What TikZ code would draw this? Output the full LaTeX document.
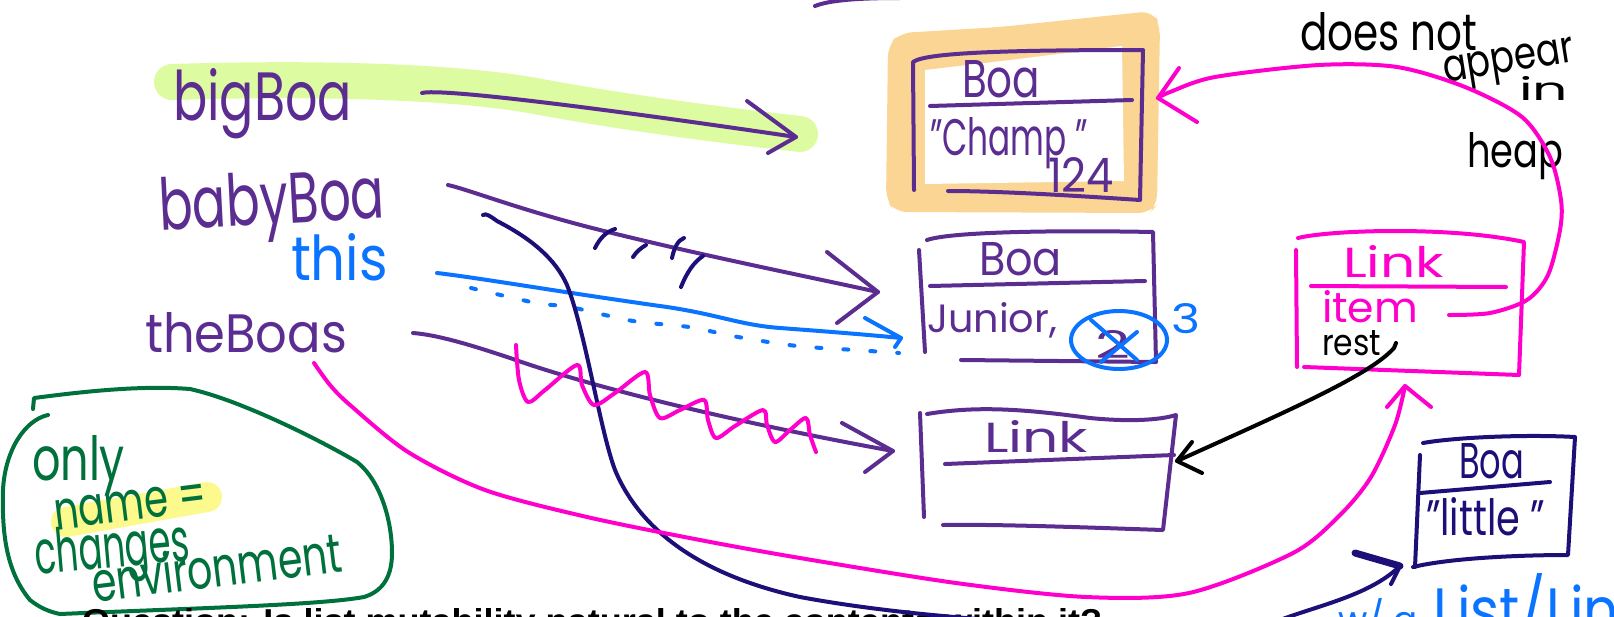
\documentclass[tikz,border=0pt]{standalone}
\usepackage{fontspec}
\setmainfont{Poppins}
\usepackage{graphicx}
\definecolor{pp}{RGB}{92,45,145}
\definecolor{nv}{RGB}{28,16,120}
\definecolor{bl}{RGB}{10,115,255}
\definecolor{pk}{RGB}{255,0,204}
\definecolor{gr}{RGB}{0,112,60}
\definecolor{hlg}{RGB}{221,251,160}
\definecolor{hly}{RGB}{252,250,140}
\definecolor{hlo}{RGB}{251,213,148}
\newcommand{\hwfit}[3]{\resizebox{#1pt}{#2pt}{#3}}
\begin{document}
\begin{tikzpicture}[x=1pt,y=-1pt,line cap=round,line join=round,
  txt/.style={anchor=base west,inner sep=0pt,outer sep=0pt},
  pen/.style={line width=4pt},
  hd/.style={line width=4pt}]
\useasboundingbox (0,0) rectangle (1614,616);
\clip (0,0) rectangle (1614,616);
% highlights
\draw[line width=36pt,hlg] (172,82) .. controls (300,78) and (440,80) .. (530,95) .. controls (620,112) and (720,125) .. (800,134);
\draw[line width=30pt,hly] (66,522) -- (207,497);
\fill[hlo,rounded corners=12pt] (888,45) -- (900,33) -- (1000,27) -- (1153,11) -- (1160,25) -- (1157,205) -- (1150,213) -- (895,212) -- (886,200) -- cycle;
\fill[white] (925,70) -- (1010,60) -- (1122,46) -- (1124,181) -- (925,184) -- cycle;
% top partial stroke
\draw[pen,pp] (815,6) .. controls (830,0) and (860,-2) .. (900,-2);
% box A
\draw[pen,pp] (914,190) -- (913,62) .. controls (925,53) and (1000,50) .. (1143,50) -- (1140,200) .. controls (1080,196) and (1000,191) .. (948,191);
\draw[pen,pp] (930,106) -- (1132,100);
% box B
\draw[pen,pp] (919,250) -- (925,352);
\draw[pen,pp] (927,240) .. controls (950,232) and (1050,230) .. (1153,232) -- (1156,362) -- (961,360);
\draw[pen,pp] (930,286) -- (1145,281);
% box C
\draw[pen,pp] (920,413) -- (924,517);
\draw[pen,pp] (927,414) .. controls (980,405) and (1030,410) .. (1090,418) .. controls (1130,422) and (1160,420) .. (1176,415) -- (1163,530) .. controls (1100,528) and (1000,524) .. (943,525);
\draw[pen,pp] (945,464) -- (1174,455);
% box D
\draw[pen,pk] (1296,250) -- (1297,367);
\draw[pen,pk] (1298,238) .. controls (1330,230) and (1450,226) .. (1524,242) -- (1519,375) -- (1304,367);
\draw[pen,pk] (1311,286) -- (1506,287);
% box E
\draw[pen,nv] (1420,455) -- (1415,567);
\draw[pen,nv] (1423,443) .. controls (1450,438) and (1520,434) .. (1575,437) -- (1568,555) .. controls (1520,555) and (1450,558) .. (1413,567);
\draw[pen,nv] (1420,493) -- (1550,482);
% green blob
\draw[pen,gr] (33,409) -- (34,398) .. controls (80,392) and (140,385) .. (190,389) .. controls (240,400) and (320,440) .. (357,462) .. controls (380,480) and (392,520) .. (392,553) .. controls (392,580) and (380,592) .. (364,597) .. controls (320,605) and (200,608) .. (60,614);
\draw[pen,gr] (48,415) .. controls (25,420) and (5,450) .. (3,490) .. controls (2,530) and (5,570) .. (30,600) .. controls (40,608) and (50,612) .. (60,614);
% texts
\node[txt,pp] (tbig) at (173,120) {\hwfit{179}{52}{bigBoa}};
\node[txt,pp,rotate=3] (tbaby) at (160,230) {\hwfit{226}{53}{babyBoa}};
\node[txt,bl] (tthis) at (291,280) {\hwfit{97}{47}{this}};
\node[txt,pp] (tthe) at (145,352) {\hwfit{202}{40}{theBoas}};
\node[txt,gr] (tonly) at (32,480) {\hwfit{93}{45}{only}};
\node[txt,gr,rotate=7] (tname) at (56,530) {\hwfit{153}{30}{name =}};
\node[txt,gr,rotate=5] (tchg) at (36,574) {\hwfit{156}{45}{changes}};
\node[txt,gr,rotate=7] (tenv) at (94,602) {\hwfit{252}{42}{environment}};
\node[txt,pp] (tboaA) at (962,97) {\hwfit{78}{37}{Boa}};
\node[txt,pp] (tchamp) at (930,155) {\hwfit{158}{38}{"Champ "}};
\node[txt,pp] (t124) at (1048,192) {\hwfit{66}{35}{124}};
\node[txt,pp] (tboaB) at (979,275) {\hwfit{83}{33}{Boa}};
\node[txt,pp] (tjun) at (927,332) {\hwfit{130}{30}{Junior,}};
\node[txt,pp] (t2) at (1095,358) {\hwfit{35}{28}{2}};
\node[txt,bl] (t3) at (1171,333) {\hwfit{29}{30}{3}};
\node[txt,pp] (tlinkC) at (984,452) {\hwfit{104}{32}{Link}};
\node[txt,pk] (tlinkD) at (1343,277) {\hwfit{101}{32}{Link}};
\node[txt,pk] (titem) at (1322,322) {\hwfit{96}{32}{item}};
\node[txt] (trest) at (1322,355) {\hwfit{59}{25}{rest}};
\node[txt,nv] (tboaE) at (1459,478) {\hwfit{65}{35}{Boa}};
\node[txt,nv] (tlittle) at (1426,535) {\hwfit{119}{38}{"little "}};
\node[txt] (tdoes) at (1300,50) {\hwfit{177}{38}{does not}};
\node[txt,rotate=9] (tappear) at (1445,82) {\hwfit{132}{25}{appear}};
\node[txt] (tin) at (1519,100) {\hwfit{49}{24}{in}};
\node[txt] (theap) at (1467,167) {\hwfit{96}{35}{heap}};
\node[txt] (tq) at (82,632) {\hwfit{1020}{24}{\fontspec{Liberation Sans}\bfseries Question: Is list mutability natural to the contents within it?}};
\node[txt,bl] (tlistA) at (1338,632) {\hwfit{80}{34}{w/ a}};
\node[txt,bl] (tlistB) at (1433,632) {\hwfit{215}{59}{List/Link}};
% circle and X
\draw[pen,bl] (1119,340) ellipse [x radius=48pt,y radius=29pt];
\draw[pen,bl] (1091,320) -- (1137,360);
\draw[pen,bl] (1137,332) -- (1101,362);
% connector coordinates
\coordinate (bbS) at (422,93);
\coordinate (bbE) at (796,137);
\coordinate (byS) at (448,185);
\coordinate (byE) at (878,292);
\coordinate (tbS) at (413,333);
\coordinate (tbE) at (893,451);
\coordinate (thS) at (437,273);
\coordinate (thE) at (901,338);
\coordinate (pkS) at (314,363);
\coordinate (pkE) at (1405,386);
\coordinate (itS) at (1449,315);
\coordinate (itE) at (1158,98);
\coordinate (rsS) at (1394,348);
\coordinate (rsE) at (1177,461);
\coordinate (nvS) at (1280,620);
\coordinate (nvE) at (1400,566);
% purple arrows
\draw[pen,pp] (bbS) .. controls (440,88) and (600,108) .. (bbE);
\draw[hd,pp] (747,101) -- (bbE) -- (768,153);
\draw[pen,pp] (byS) .. controls (470,190) and (520,210) .. (600,230) .. controls (700,255) and (800,275) .. (byE);
\draw[hd,pp] (827,252) -- (byE) -- (837,323);
\draw[pen,pp] (tbS) .. controls (440,335) and (480,348) .. (510,358) .. controls (600,390) and (750,425) .. (tbE);
\draw[hd,pp] (842,423) -- (tbE) -- (865,472);
% blue this arrow
\draw[pen,bl] (thS) .. controls (480,278) and (560,292) .. (667,307) .. controls (720,315) and (740,325) .. (780,328) .. controls (820,331) and (860,334) .. (thE);
\draw[hd,bl] (865,318) -- (thE) -- (895,347);
\draw[pen,bl,dash pattern=on 5pt off 22pt] plot[smooth] coordinates {(471,288) (536,303) (570,307) (633,321) (689,327) (738,337) (797,346) (855,350) (899,353)};
% navy ticks
\draw[pen,nv] (595,248) .. controls (600,238) and (606,232) .. (615,229);
\draw[pen,nv] (633,257) .. controls (637,251) and (641,248) .. (646,245);
\draw[pen,nv] (672,258) .. controls (674,248) and (678,240) .. (684,238);
\draw[pen,nv] (681,287) .. controls (687,272) and (694,262) .. (703,256);
% navy long curve
\draw[pen,nv] (483,215) .. controls (486,213) and (490,216) .. (497,221) .. controls (530,238) and (555,258) .. (567,285) .. controls (585,330) and (600,430) .. (615,470) .. controls (640,530) and (700,575) .. (800,597) .. controls (870,610) and (940,616) .. (990,620);
\draw[pen,nv] (nvS) .. controls (1320,605) and (1370,595) .. (nvE);
\draw[line width=7pt,nv] (1355,553) -- (nvE);
\draw[hd,nv] (nvE) -- (1391,584);
% pink zigzag
\draw[pen,pk] plot[smooth,tension=0.5] coordinates {(516,345) (519,380) (528,402) (545,390) (577,365) (582,385) (594,405) (615,393) (645,372) (650,395) (660,418) (680,410) (704,400) (708,420) (716,438) (735,426) (763,410) (767,425) (775,442) (790,430) (806,418) (810,435) (816,452)};
% pink long curve
\draw[pen,pk] plot[smooth] coordinates {(pkS) (330,385) (350,405) (408,452) (485,490) (587,517) (700,540) (800,558) (956,583) (1086,597) (1189,593) (1293,553) (1340,515) (1371,477) (1395,425) (pkE)};
\draw[hd,pk] (1387,407) -- (pkE) -- (1431,407);
% pink item arrow
\draw[pen,pk] plot[smooth] coordinates {(itS) (1490,313) (1527,300) (1548,275) (1560,230) (1561,200) (1550,157) (1522,117) (1465,87) (1397,67) (1319,65) (1215,77) (1170,92) (itE)};
\draw[hd,pk] (1179,68) -- (itE) -- (1197,122);
% black rest arrow
\draw[pen] (1396,343) -- (rsS) .. controls (1370,375) and (1290,410) .. (rsE);
\draw[hd] (1192,442) -- (rsE) -- (1202,473);
\end{tikzpicture}
\end{document}
